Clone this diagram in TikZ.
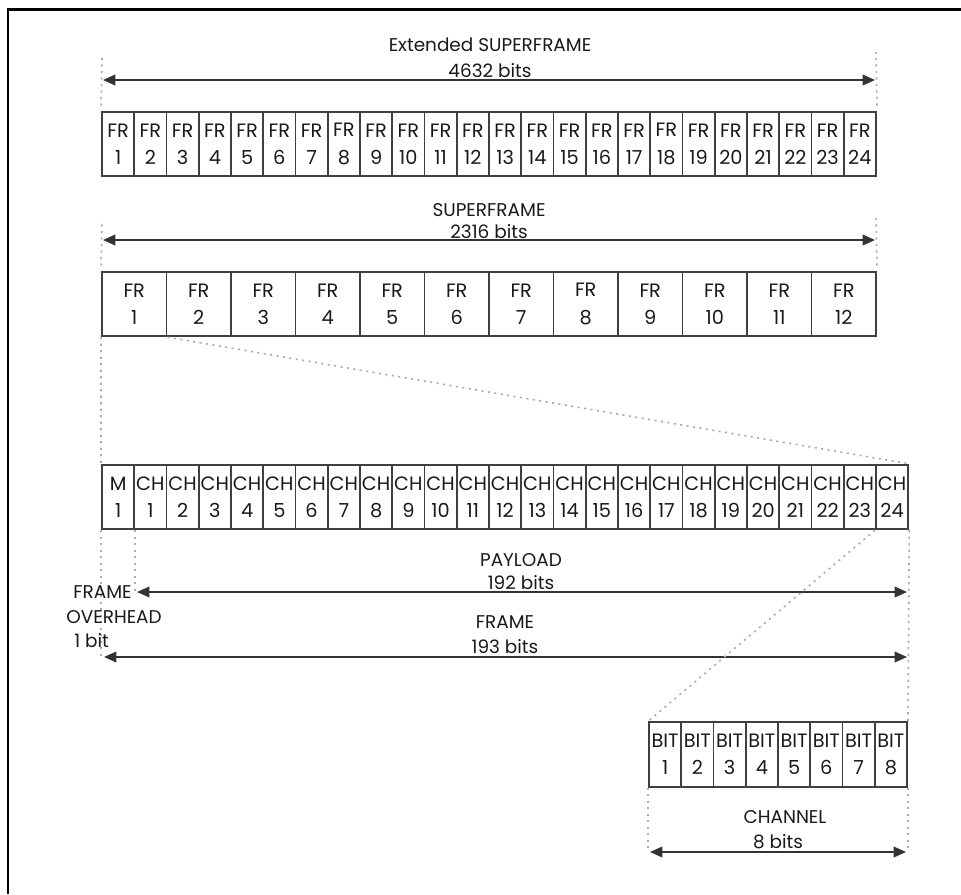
\documentclass[tikz,border=0pt]{standalone}
\usepackage{fontspec}
\setmainfont{Poppins}
\usetikzlibrary{arrows.meta}

\begin{document}
\begin{tikzpicture}[
  x=0.02cm, y=-0.02cm,
  >={Triangle[length=7pt,width=6pt]},
  % cells of every row share one base style
  box/.style={draw=black!75, line width=1.1pt, minimum width=0.645cm,
              minimum height=1.29cm, inner sep=0pt, align=center,
              font=\fontsize{11}{15.5}\selectfont, text=black!90},
  wbox/.style={box, minimum width=1.29cm},
  lbl/.style={font=\fontsize{10.5}{12}\selectfont, text=black!90, inner sep=0pt},
  dim/.style={<->, line width=1.1pt, black!80},
  guide/.style={gray!65, line width=0.9pt, dash pattern=on 1.2pt off 2.5pt},
]
\useasboundingbox (0,0) rectangle (961,894);
\draw[line width=1.7pt] (8,894) -- (8,9) -- (961,9);

%% ── Extended superframe ───────────────────────────────────────────
\foreach \i in {1,...,24}
  \node[box] (xf\i) at ({102+32.25*(\i-0.5)},144) {FR\\\i};
\node[lbl] (xft) at (490,45) {Extended SUPERFRAME};
\node[lbl] (xfb) at (490,71) {4632 bits};
\coordinate (xa) at (103,80);  \coordinate (xb) at (875,80);
\coordinate (xgl) at (102,58); \coordinate (xgr) at (876,52);
\draw[guide] ([yshift=3pt]xf1.north west) -- (xgl);
\draw[guide] ([yshift=3pt]xf24.north east) -- (xgr);
\draw[dim] (xa) -- (xb);

%% ── Superframe ────────────────────────────────────────────────────
\foreach \i in {1,...,12}
  \node[wbox] (sf\i) at ({102+64.5*(\i-0.5)},304) {FR\\\i};
\node[lbl] (sft) at (489,210) {SUPERFRAME};
\node[lbl] (sfb) at (489,232) {2316 bits};
\coordinate (sa) at (103,240);  \coordinate (sb) at (875,240);
\coordinate (sgl) at (102,220); \coordinate (sgr) at (876,214);
\draw[guide] ([yshift=3pt]sf1.north west) -- (sgl);
\draw[guide] ([yshift=3pt]sf12.north east) -- (sgr);
\draw[dim] (sa) -- (sb);

%% ── Frame ─────────────────────────────────────────────────────────
\node[box] (fm) at (118.1,497) {M\\1};
\foreach \i in {1,...,24}
  \node[box] (ch\i) at ({102+32.25*(\i+0.5)},497) {CH\\\i};
\draw[guide] (sf1.south west) -- (fm.north west);
\draw[guide] (sf1.south east) -- (ch24.north east);

\node[lbl] (plt) at (521,560) {PAYLOAD};
\node[lbl] (plb) at (521,583) {192 bits};
\coordinate (pa) at (137,592); \coordinate (pb) at (907,592);
\draw[guide] (fm.south east) -- (fm.south east |- pa);
\draw[dim] (pa) -- (pb);

\node[lbl] (frt) at (505,622) {FRAME};
\node[lbl] (frb) at (505,647) {193 bits};
\coordinate (fa) at (104,657); \coordinate (fb) at (907,657);
\draw[guide] (fm.south west) -- (fm.south west |- fa);
\draw[dim] (fa) -- (fb);

\node[lbl, anchor=west] (fo1) at (73,592) {FRAME};
\node[lbl, anchor=west] (fo2) at (66,617) {OVERHEAD};
\node[lbl, anchor=west] (fo3) at (74,641) {1 bit};

%% ── Channel ───────────────────────────────────────────────────────
\foreach \i in {1,...,8}
  \node[box] (bit\i) at ({649+32.25*(\i-0.5)},754.5) {BIT\\\i};
\draw[guide] (ch24.south west) -- (bit1.north west);
\draw[guide] (ch24.south east) -- (bit8.north east);

\node[lbl] (cht) at (785,817) {CHANNEL};
\node[lbl] (chb) at (778,842) {8 bits};
\coordinate (ca) at (650,852); \coordinate (cb) at (906,852);
\draw[guide] (bit1.south west) -- (bit1.south west |- ca);
\draw[guide] (bit8.south east) -- (bit8.south east |- cb);
\draw[dim] (ca) -- (cb);

\end{tikzpicture}
\end{document}
